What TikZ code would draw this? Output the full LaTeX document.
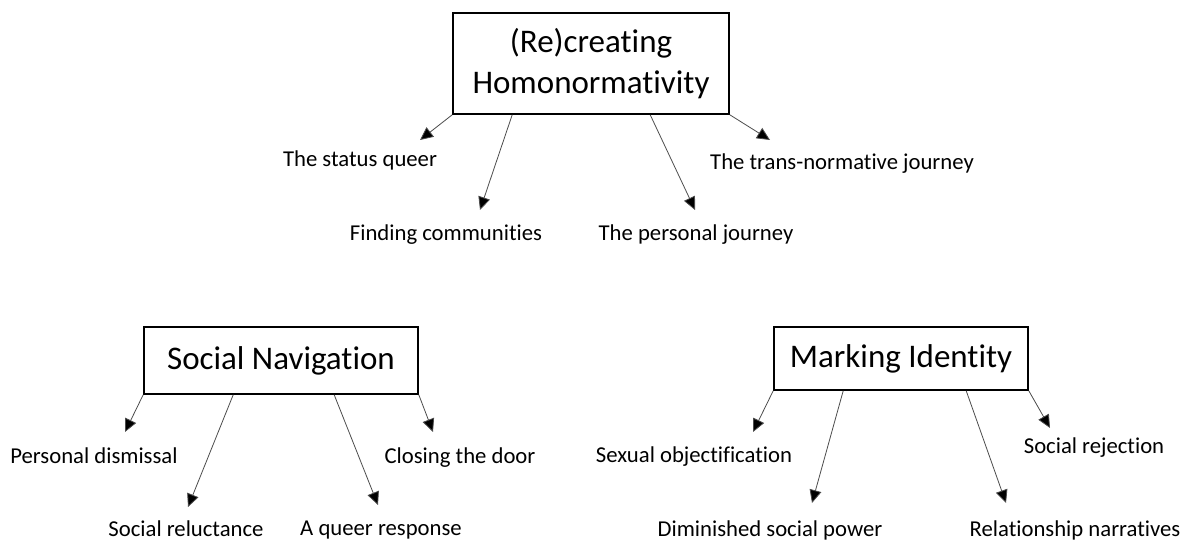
\documentclass[tikz,border=0pt]{standalone}
\usepackage{fontspec}
\setmainfont{Carlito}[Ligatures=NoCommon]
\usetikzlibrary{arrows.meta}

\begin{document}
\begin{tikzpicture}[x=1pt,y=-1pt,
		theme/.style={draw, line width=1.6pt, inner sep=0pt, font=\fontsize{33}{41}\selectfont, align=center},
		subtheme/.style={anchor=base, inner sep=0pt, font=\fontsize{22.7}{27}\selectfont},
		branch/.style={line width=0.8pt, draw=black!70, -{Triangle[length=13pt,width=12pt,fill=black]}}]
		\useasboundingbox (0,0) rectangle (1190,540);
		% main themes
		\node [theme, minimum width=276, minimum height=101] (homo) at (591,63.5) {(Re)creating\\Homonormativity};
		\node [theme, minimum width=274, minimum height=67] (nav) at (281,360.5) {Social Navigation};
		\node [theme, minimum width=254, minimum height=63] (mark) at (901,358.5) {Marking Identity};
		% arrow tips
		\coordinate (h1) at (420,140);
		\coordinate (h2) at (480,210);
		\coordinate (h3) at (695,210);
		\coordinate (h4) at (770,140);
		\coordinate (n1) at (125,432);
		\coordinate (n2) at (188,507);
		\coordinate (n3) at (378,505);
		\coordinate (n4) at (433,432);
		\coordinate (m1) at (753,432);
		\coordinate (m2) at (812,503);
		\coordinate (m3) at (1006,503);
		\coordinate (m4) at (1050,428);
		% subthemes
		\node [subtheme] (statq) at (360,167) {The status queer};
		\node [subtheme] (findc) at (446,240) {Finding communities};
		\node [subtheme] (persj) at (696,240) {The personal journey};
		\node [subtheme] (transj) at (842,170) {The trans-normative journey};
		\node [subtheme] (pdism) at (94,463) {Personal dismissal};
		\node [subtheme] (sreluc) at (186,536) {Social reluctance};
		\node [subtheme] (qresp) at (381,535) {A queer response};
		\node [subtheme] (cdoor) at (460,463) {Closing the door};
		\node [subtheme] (sobj) at (694,462) {Sexual objectification};
		\node [subtheme] (dpow) at (770,536) {Diminished social power};
		\node [subtheme] (rnarr) at (1075,536) {Relationship narratives};
		\node [subtheme] (srej) at (1094,453) {Social rejection};
		% branches
		\draw [branch] (homo.south west) -- (h1);
		\draw [branch] ([xshift=60]homo.south west) -- (h2);
		\draw [branch] ([xshift=198]homo.south west) -- (h3);
		\draw [branch] (homo.south east) -- (h4);
		\draw [branch] (nav.south west) -- (n1);
		\draw [branch] ([xshift=90]nav.south west) -- (n2);
		\draw [branch] ([xshift=191]nav.south west) -- (n3);
		\draw [branch] (nav.south east) -- (n4);
		\draw [branch] (mark.south west) -- (m1);
		\draw [branch] ([xshift=70]mark.south west) -- (m2);
		\draw [branch] ([xshift=193]mark.south west) -- (m3);
		\draw [branch] (mark.south east) -- (m4);
	\end{tikzpicture}
\end{document}
